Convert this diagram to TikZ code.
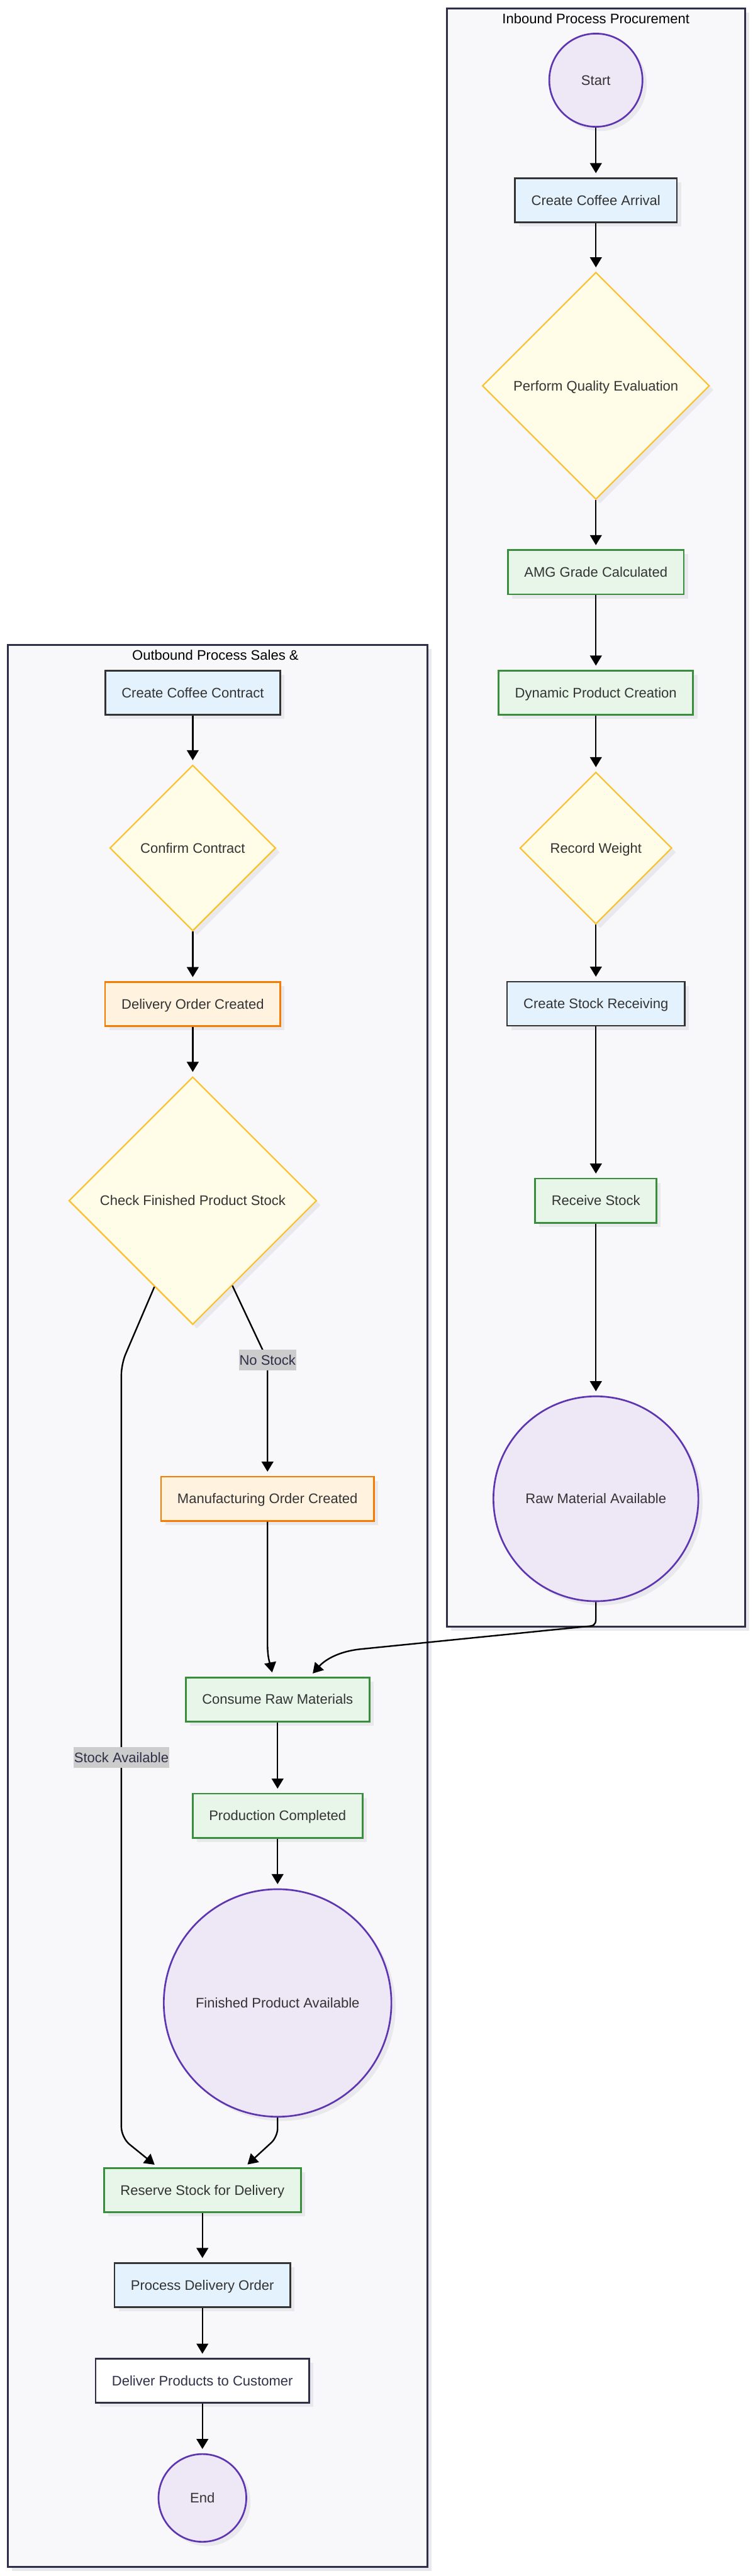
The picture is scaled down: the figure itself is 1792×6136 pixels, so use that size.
\documentclass[tikz,border=0pt]{standalone}
\usepackage{fontspec}
\setmainfont{Liberation Sans}
\usetikzlibrary{shapes.geometric,arrows.meta,shadows,calc}
\definecolor{clusterfill}{HTML}{F8F8FA}
\definecolor{clusterline}{HTML}{2E2E48}
\definecolor{shadowgrey}{HTML}{E9E9ED}
\definecolor{textgrey}{HTML}{333333}
\definecolor{bluefill}{HTML}{E3F2FD}
\definecolor{greenfill}{HTML}{E8F5E9}
\definecolor{greenline}{HTML}{388E3C}
\definecolor{orangefill}{HTML}{FFF3E0}
\definecolor{orangeline}{HTML}{F57C00}
\definecolor{yellowfill}{HTML}{FFFDE7}
\definecolor{yellowline}{HTML}{FBC02D}
\definecolor{purplefill}{HTML}{EDE7F6}
\definecolor{purpleline}{HTML}{5E35B1}
\definecolor{labelgrey}{HTML}{CCCCCC}
\begin{document}
\begin{tikzpicture}[x=1pt, y=-1pt,
  every node/.style={font=\fontsize{33pt}{40pt}\selectfont, text height=30pt, text depth=7pt},
  castshadow/.style={drop shadow={shadow xshift=10pt, shadow yshift=-10pt, fill=shadowgrey, opacity=1}},
  box/.style={castshadow, draw, rectangle, line width=4pt, inner xsep=39pt, inner ysep=0pt, minimum height=105pt, text=textgrey},
  bluebox/.style={box, draw=textgrey, fill=bluefill},
  greenbox/.style={box, draw=greenline, fill=greenfill},
  orangebox/.style={box, draw=orangeline, fill=orangefill},
  plainbox/.style={box, draw=clusterline, fill=white, text=clusterline},
  decision/.style={castshadow, diamond, aspect=1, draw=yellowline, fill=yellowfill, line width=3.2pt, inner sep=0pt, text=textgrey},
  event/.style={castshadow, circle, draw=purpleline, fill=purplefill, line width=4pt, inner sep=0pt, text=textgrey},
  cluster/.style={castshadow, draw=clusterline, fill=clusterfill, line width=4pt},
  clustertitle/.style={text=black},
  flow/.style={draw=black, line width=3.6pt, -{Triangle[width=28pt, length=24pt]}, shorten >=10pt},
  lbl/.style={fill=labelgrey, text=clusterline, inner xsep=1pt, inner ysep=6pt}
]
\path[use as bounding box, fill=white] (0,0) rectangle (1792,6136);
\draw[cluster] (1064,20) rectangle (1774,3875);
\node[clustertitle] (inboundtitle) at (1419,44) {Inbound Process Procurement};
\draw[cluster] (19,1536) rectangle (1018,6114);
\node[clustertitle] (outboundtitle) at (513,1560) {Outbound Process Sales \&};
\node[event, minimum size=222pt] (start) at (1419,191) {Start};
\node[bluebox] (arrival) at (1419,477) {Create Coffee Arrival};
\node[decision, minimum size=541pt] (quality) at (1419,919) {Perform Quality Evaluation};
\node[greenbox] (amg) at (1419,1363) {AMG Grade Calculated};
\node[greenbox] (dynprod) at (1419,1650) {Dynamic Product Creation};
\node[decision, minimum size=362pt] (weight) at (1419,2020) {Record Weight};
\node[bluebox] (stockrecv) at (1419,2391) {Create Stock Receiving};
\node[greenbox] (receive) at (1419,2860) {Receive Stock};
\node[event, minimum size=488pt] (rawmat) at (1419,3570) {Raw Material Available};
\node[bluebox] (contract) at (459,1650) {Create Coffee Contract};
\node[decision, minimum size=395pt] (confirm) at (459,2020) {Confirm Contract};
\node[orangebox] (delivery) at (459,2392) {Delivery Order Created};
\node[decision, minimum size=590pt] (check) at (459,2860) {Check Finished Product Stock};
\node[orangebox] (mfg) at (637,3570) {Manufacturing Order Created};
\node[greenbox] (consume) at (661,4048) {Consume Raw Materials};
\node[greenbox] (prodcomp) at (661,4325) {Production Completed};
\node[event, minimum size=542pt] (finished) at (661,4771) {Finished Product Available};
\node[greenbox] (reserve) at (482,5217) {Reserve Stock for Delivery};
\node[bluebox] (process) at (482,5443) {Process Delivery Order};
\node[plainbox] (deliver) at (482,5671) {Deliver Products to Customer};
\node[event, minimum size=209pt] (stop) at (482,5950) {End};
\draw[flow] (start) -- (arrival);
\draw[flow] (arrival) -- (quality);
\draw[flow] (quality) -- (amg);
\draw[flow] (amg) -- (dynprod);
\draw[flow] (dynprod) -- (weight);
\draw[flow] (weight) -- (stockrecv);
\draw[flow] (stockrecv) -- (receive);
\draw[flow] (receive) -- (rawmat);
\draw[flow] (contract) -- (confirm);
\draw[flow] (confirm) -- (delivery);
\draw[flow] (delivery) -- (check);
\draw[flow, rounded corners=25pt] (check.246) -- (289,3249) -- (289,5092) -- ($(reserve.north)+(-106,0)$);
\draw[flow, rounded corners=25pt] (check.295) -- (637,3240) -- (mfg.north);
\draw[flow] (mfg.south) -- (637,3915) .. controls (637,3955) and (645,3968) .. ($(consume.north)+(-11,0)$);
\draw[flow] (rawmat.south) -- (1419,3856) .. controls (1419,3872) and (1412,3873) .. (1398,3874) -- (860,3928) .. controls (800,3934) and (770,3958) .. ($(consume.north)+(77,0)$);
\draw[flow] (consume) -- (prodcomp);
\draw[flow] (prodcomp) -- (finished);
\draw[flow, rounded corners=20pt] (finished.south) -- (661,5090) -- ($(reserve.north)+(100,0)$);
\draw[flow] (reserve) -- (process);
\draw[flow] (process) -- (deliver);
\draw[flow] (deliver) -- (stop);
\node[lbl] (nostock) at (637,3240) {No Stock};
\node[lbl] (stockavail) at (289,4186) {Stock Available};
\end{tikzpicture}
\end{document}
